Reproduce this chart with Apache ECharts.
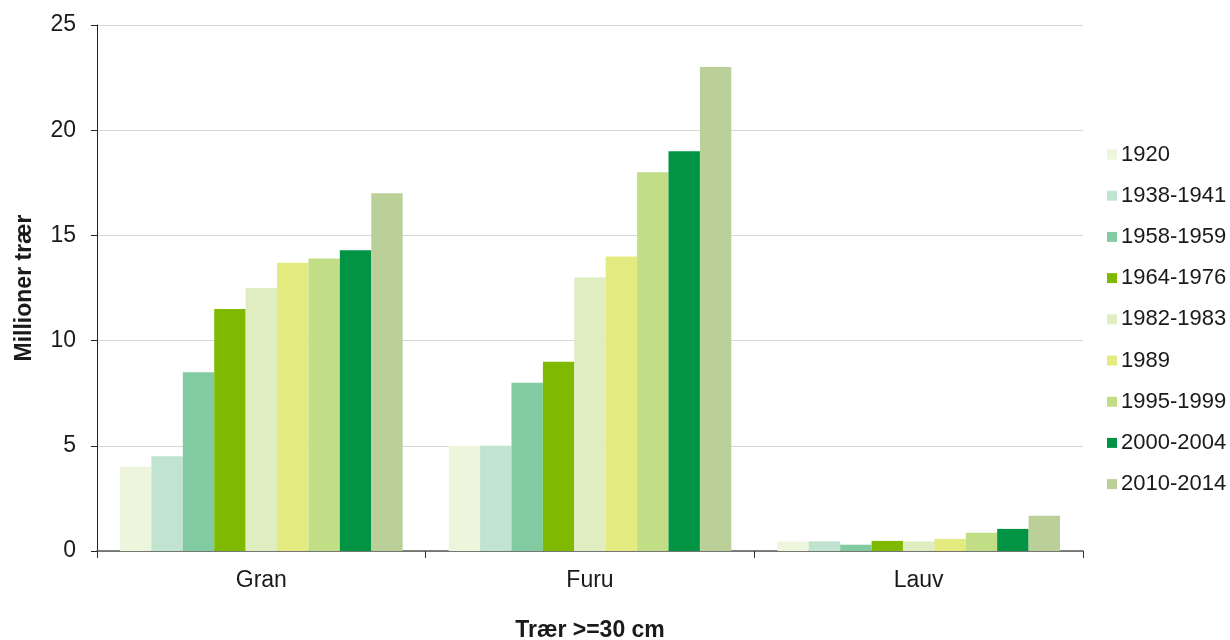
<!DOCTYPE html>
<html>
<head>
<meta charset="utf-8">
<script src="https://cdn.jsdelivr.net/npm/echarts@6/dist/echarts.min.js"></script>
<style>html,body{margin:0;padding:0;background:#fff}#c{width:1230px;height:640px}</style>
</head>
<body>
<div id="c"></div>
<script>
const categories = ['Gran', 'Furu', 'Lauv'];
const seriesNames = ['1920', '1938-1941', '1958-1959', '1964-1976', '1982-1983', '1989', '1995-1999', '2000-2004', '2010-2014'];
const s1920 = [4.0, 5.0, 0.45];
const s1938 = [4.5, 5.0, 0.46];
const s1958 = [8.5, 8.0, 0.3];
const s1964 = [11.5, 9.0, 0.48];
const s1982 = [12.5, 13.0, 0.45];
const s1989 = [13.7, 14.0, 0.57];
const s1995 = [13.9, 18.0, 0.87];
const s2000 = [14.3, 19.0, 1.05];
const s2010 = [17.0, 23.0, 1.68];
const yTicks = [0, 5, 10, 15, 20, 25];

const values = [s1920, s1938, s1958, s1964, s1982, s1989, s1995, s2000, s2010];
const colors = ['#EDF5DC', '#C0E4D0', '#82CBA2', '#80BA00', '#DFEDC0', '#E3EB80', '#C1DD86', '#009444', '#BBCF98'];
const FONT = 'Liberation Sans, Arial, sans-serif';
const FS = 23;

const chart = echarts.init(document.getElementById('c'), null, {renderer: 'canvas'});
chart.setOption({
  animation: false,
  backgroundColor: '#fff',
  grid: {left: 97, right: 147, top: 25, bottom: 89, containLabel: false, outerBoundsMode: 'none'},
  legend: {
    orient: 'vertical',
    left: 1102,
    top: 138,
    itemWidth: 10,
    itemHeight: 10,
    itemGap: 18.2,
    icon: 'rect',
    data: seriesNames,
    textStyle: {fontFamily: FONT, fontSize: 22, color: '#1a1a1a', lineHeight: 23, padding: [0, 0, 0, -1]}
  },
  xAxis: {
    type: 'category',
    data: categories,
    name: 'Trær >=30 cm',
    nameLocation: 'middle',
    nameGap: 68,
    nameTextStyle: {fontFamily: FONT, fontSize: FS, fontWeight: 'bold', color: '#1a1a1a'},
    axisLine: {lineStyle: {color: '#555', width: 1.5}},
    axisTick: {show: true, length: 7, lineStyle: {color: '#333'}},
    axisLabel: {fontFamily: FONT, fontSize: FS, color: '#1a1a1a', margin: 18},
    splitLine: {show: false}
  },
  yAxis: {
    type: 'value',
    min: 0,
    max: 25,
    interval: 5,
    name: 'Millioner trær',
    nameLocation: 'middle',
    nameGap: 61,
    nameRotate: 90,
    nameTextStyle: {fontFamily: FONT, fontSize: FS, fontWeight: 'bold', color: '#1a1a1a'},
    axisLine: {show: true, lineStyle: {color: '#222', width: 1}},
    axisTick: {show: true, length: 6, lineStyle: {color: '#222'}},
    axisLabel: {fontFamily: FONT, fontSize: FS, color: '#1a1a1a', margin: 21,
      formatter: v => yTicks.includes(v) ? String(v) : ''},
    splitLine: {show: true, lineStyle: {color: '#d9d9d4', width: 1}}
  },
  series: seriesNames.map((n, i) => ({
    name: n,
    type: 'bar',
    data: values[i],
    barGap: '0%',
    barCategoryGap: '14%',
    itemStyle: {color: colors[i]}
  }))
});
</script>
</body>
</html>
